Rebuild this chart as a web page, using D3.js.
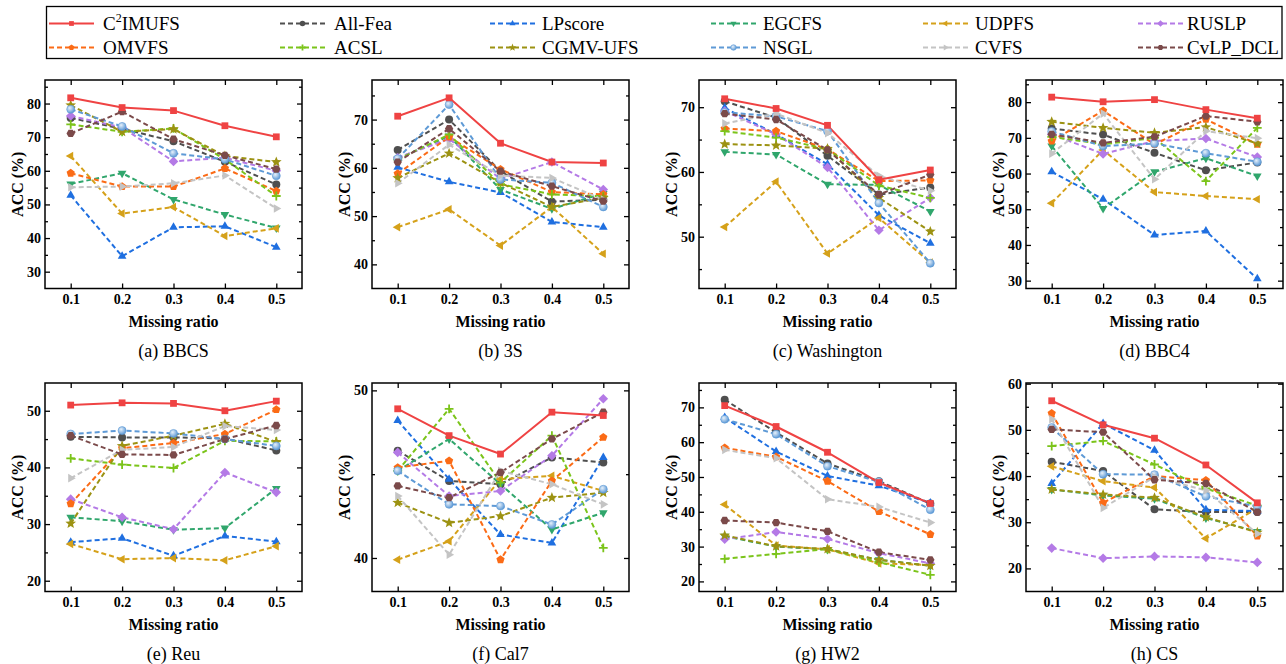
<!DOCTYPE html>
<html><head><meta charset="utf-8">
<script src="https://cdn.jsdelivr.net/npm/d3@7"></script>
<style>body{margin:0;background:#fff}svg{display:block}text{font-family:"Liberation Serif","Times New Roman",serif}</style>
</head><body><svg id="c" width="1286" height="664"></svg>
<script>
const missingRatios = [0.1, 0.2, 0.3, 0.4, 0.5];
const methods = ["C2IMUFS","All-Fea","LPscore","EGCFS","UDPFS","RUSLP","OMVFS","ACSL","CGMV-UFS","NSGL","CVFS","CvLP_DCL"];
const methodColors = ["#ef4343","#4f4f4f","#1f6fe0","#30a66c","#d5a11a","#b47ae6","#fb6b16","#7bc41a","#9c9212","#5e9ad6","#c4c4c4","#7b4a4a"];
const methodShapes = ["square","circle","triUp","triDown","triLeft","diamond","pentagon","plus","star","sphere","triRight","hexagon"];
const datasetNames = ["BBCS","3S","Washington","BBC4","Reu","Cal7","HW2","CS"];
const panelLetters = ["a","b","c","d","e","f","g","h"];

const accBBCS = [
  [81.7,78.8,77.9,73.4,70.1],[75.7,72.5,68.8,62.7,55.9],[52.7,34.6,43.2,43.5,37.3],[56.1,59.3,51.5,47.0,43.0],
  [64.4,47.3,49.2,40.6,42.9],[76.3,72.9,62.8,63.9,60.0],[59.3,55.3,55.3,60.7,54.0],[73.8,71.6,72.6,63.4,52.5],
  [79.5,71.6,72.4,64.4,62.6],[78.3,73.2,65.2,63.4,58.5],[55.1,55.3,56.3,58.6,48.8],[71.1,77.6,69.4,64.6,60.5]];
const acc3S = [
  [70.7,74.5,65.1,61.2,61.0],[63.7,70.0,59.3,53.0,53.4],[60.1,57.1,54.9,48.8,47.7],[61.9,66.6,55.5,51.5,54.7],
  [47.7,51.4,43.9,51.9,42.2],[62.1,66.0,57.7,61.2,55.5],[58.8,66.4,59.7,55.0,54.5],[61.7,66.9,56.6,54.5,54.1],
  [57.9,63.0,56.9,51.9,53.8],[61.9,73.1,57.6,56.9,51.9],[56.8,64.8,58.4,57.9,53.4],[61.2,68.1,59.3,56.2,53.1]];
const accWashington = [
  [71.3,69.8,67.2,58.8,60.3],[70.9,68.4,62.5,56.5,57.6],[69.9,65.8,61.2,53.3,49.0],[63.1,62.7,58.1,58.0,53.9],
  [51.5,58.5,47.4,52.9,46.0],[69.4,65.8,60.7,51.0,56.0],[66.7,66.3,63.5,58.6,58.7],[66.3,65.3,63.5,57.9,56.0],
  [64.3,64.1,63.6,56.0,50.8],[69.2,68.6,66.3,55.2,45.9],[67.5,69.0,66.0,59.4,57.1],[69.0,68.1,63.4,56.5,59.6]];
const accBBC4 = [
  [81.4,80.1,80.7,77.9,75.5],[72.6,70.9,65.8,60.9,63.1],[60.5,52.8,42.8,43.9,30.5],[67.7,50.2,60.5,64.3,59.3],
  [51.7,66.6,54.8,53.7,52.8],[71.0,65.5,69.1,69.8,64.6],[69.1,77.6,68.2,75.2,68.2],[70.3,68.2,70.0,57.9,72.8],
  [74.5,72.8,71.4,73.0,68.4],[71.8,67.7,68.4,65.7,63.3],[65.6,76.8,58.4,71.9,69.9],[71.0,68.6,70.3,76.1,74.5]];
const accReu = [
  [51.0,51.4,51.3,50.0,51.7],[45.4,45.3,45.3,45.1,43.0],[26.8,27.5,24.4,27.9,26.9],[31.2,30.5,29.0,29.3,36.3],
  [26.5,23.8,24.0,23.6,26.1],[34.4,31.2,29.1,39.1,35.6],[33.6,43.4,44.3,45.9,50.2],[41.6,40.5,39.9,44.7,44.6],
  [30.1,43.8,45.6,47.7,44.5],[45.9,46.5,46.0,45.0,43.8],[38.1,43.1,43.6,47.3,46.6],[45.6,42.3,42.2,45.0,47.4]];
const accCal7 = [
  [48.9,47.3,46.2,48.7,48.5],[46.4,44.6,44.4,46.0,45.7],[48.2,44.7,41.4,40.9,46.0],[45.2,47.1,44.4,41.7,42.7],
  [39.9,41.0,44.7,44.9,44.0],[46.3,43.7,44.0,46.1,49.5],[45.4,45.8,39.9,44.6,47.2],[45.2,48.9,44.5,47.3,40.6],
  [43.3,42.1,42.5,43.6,43.9],[45.2,43.2,43.1,42.0,44.1],[43.7,40.2,45.2,44.4,43.2],[44.3,43.6,45.1,47.1,48.7]];
const accHW2 = [
  [70.5,64.5,57.1,48.4,42.4],[72.2,62.8,53.9,48.8,42.4],[67.1,57.3,50.3,47.5,42.5],[33.0,30.0,29.2,26.2,24.5],
  [42.1,30.3,29.2,25.2,24.7],[32.1,34.2,32.2,28.1,25.2],[58.4,55.8,48.8,40.1,33.5],[26.5,27.9,29.3,25.5,21.9],
  [33.2,30.1,29.3,26.2,24.5],[66.6,62.3,53.1,48.6,40.6],[57.8,55.4,43.6,41.4,36.9],[37.5,36.9,34.4,28.4,26.2]];
const accCS = [
  [56.3,51.1,48.2,42.4,34.2],[43.1,41.1,32.8,32.2,32.2],[38.4,51.4,45.6,32.7,32.4],[37.1,35.8,35.1,30.9,28.0],
  [42.1,38.9,37.5,26.5,33.0],[24.4,22.2,22.6,22.4,21.3],[53.6,34.2,40.0,39.1,27.0],[46.5,47.6,42.5,37.3,33.6],
  [37.1,36.0,35.3,31.1,27.8],[50.5,40.4,40.3,35.6,33.4],[52.3,33.1,39.8,36.9,27.5],[50.1,49.5,39.2,38.4,32.2]];
const allAcc = [accBBCS, acc3S, accWashington, accBBC4, accReu, accCal7, accHW2, accCS];

const yDomains = [[25,87],[35,78.2],[42,74.2],[27.8,86.2],[18.1,54.9],[38,50.44],[17.1,77],[15,60.15]];
const yMajorTicks = [[30,40,50,60,70,80],[40,50,60,70],[50,60,70],[30,40,50,60,70,80],[20,30,40,50],[40,50],[20,30,40,50,60,70],[20,30,40,50,60]];
const yMinorTicks = [[35,45,55,65,75,85],[45,55,65,75],[45,55,65],[35,45,55,65,75,85],[25,35,45],[45],[25,35,45,55,65,75],[25,35,45,55]];

const SERIF = "Liberation Serif, Times New Roman, serif";
const svg = d3.select("#c");
const defs = svg.append("defs");
const grad = defs.append("radialGradient").attr("id","sphere").attr("cx","38%").attr("cy","35%").attr("r","65%");
grad.append("stop").attr("offset","0%").attr("stop-color","#e6f0fa");
grad.append("stop").attr("offset","100%").attr("stop-color","#5e9ad6");

function poly(n, R, startDeg) {
  const pts = [];
  for (let k = 0; k < n; k++) {
    const a = (startDeg + k * 360 / n) * Math.PI / 180;
    pts.push([R * Math.cos(a), R * Math.sin(a)]);
  }
  return "M" + pts.map(p => p[0].toFixed(2) + "," + p[1].toFixed(2)).join("L") + "Z";
}
function starPath(Ro, Ri) {
  const pts = [];
  for (let k = 0; k < 10; k++) {
    const a = (-90 + k * 36) * Math.PI / 180, R = k % 2 ? Ri : Ro;
    pts.push([R * Math.cos(a), R * Math.sin(a)]);
  }
  return "M" + pts.map(p => p[0].toFixed(2) + "," + p[1].toFixed(2)).join("L") + "Z";
}
function shapePath(type, r) {
  switch (type) {
    case "square": { const s = r * 0.85; return `M${-s},${-s}H${s}V${s}H${-s}Z`; }
    case "circle": case "sphere": return `M${r},0A${r},${r} 0 1,1 ${-r},0A${r},${r} 0 1,1 ${r},0Z`;
    case "triUp": return poly(3, r * 1.25, -90);
    case "triDown": return poly(3, r * 1.25, 90);
    case "triLeft": return poly(3, r * 1.25, 180);
    case "triRight": return poly(3, r * 1.25, 0);
    case "diamond": return poly(4, r * 1.2, -90);
    case "pentagon": return poly(5, r * 1.08, -90);
    case "hexagon": return poly(6, r * 1.05, 0);
    case "star": return starPath(r * 1.4, r * 0.6);
    case "plus": return `M${-r * 1.1},0H${r * 1.1}M0,${-r * 1.1}V${r * 1.1}`;
  }
}
function drawMarker(g, type, color, r) {
  const p = g.append("path").attr("d", shapePath(type, r));
  if (type === "plus") p.attr("fill", "none").attr("stroke", color).attr("stroke-width", 1.8);
  else if (type === "sphere") p.attr("fill", "url(#sphere)").attr("stroke", color).attr("stroke-width", 0.6);
  else p.attr("fill", color);
}

// Legend
const legendG = svg.append("g");
legendG.append("rect").attr("x", 46.5).attr("y", 6.5).attr("width", 1235.5).attr("height", 52)
  .attr("fill", "#fff").attr("stroke", "#000").attr("stroke-width", 1.3);
const legLineX = [49, 280, 490, 711, 923, 1138];
const legTextX = [103, 334, 542, 763, 975, 1187];
const legRowY = [23.5, 47.5];
methods.forEach((m, i) => {
  const x0 = legLineX[i % 6], y0 = legRowY[Math.floor(i / 6)];
  const g = legendG.append("g");
  g.append("line").attr("x1", x0).attr("x2", x0 + 45).attr("y1", y0).attr("y2", y0)
    .attr("stroke", methodColors[i]).attr("stroke-width", 2)
    .attr("stroke-dasharray", i === 0 ? null : "5,3");
  const mg = g.append("g").attr("transform", `translate(${x0 + 22.5},${y0})`);
  drawMarker(mg, methodShapes[i], methodColors[i], 2.8);
  const t = g.append("text").attr("x", legTextX[i % 6]).attr("y", y0 + 6.5).attr("font-size", 19)
    .attr("font-family", SERIF).attr("fill", "#000");
  if (i === 0) {
    t.append("tspan").text("C");
    t.append("tspan").text("2").attr("font-size", 12).attr("dy", -8);
    t.append("tspan").text("IMUFS").attr("dy", 8);
  } else t.text(m);
});

// Panels
const panelLeft = [45, 372, 699, 1026];
const rowTop = [80, 383];
const PW = 257, PH = 208.5;

allAcc.forEach((acc, p) => {
  const col = p % 4, row = Math.floor(p / 4);
  const x0 = panelLeft[col], y0 = rowTop[row];
  const g = svg.append("g").attr("transform", `translate(${x0},${y0})`);
  const x = d3.scaleLinear().domain([0.05, 0.55]).range([0, PW]);
  const y = d3.scaleLinear().domain(yDomains[p]).range([PH, 0]);

  const styleAxis = sel => {
    sel.attr("font-family", SERIF);
    sel.select(".domain").remove();
    sel.selectAll("line").attr("stroke", "#000").attr("stroke-width", 1.3);
  };
  g.append("g").attr("transform", `translate(0,${PH})`)
    .call(d3.axisBottom(x).tickValues(missingRatios).tickSize(-5).tickPadding(6).tickFormat(d3.format(".1f")))
    .call(styleAxis)
    .selectAll("text").attr("font-size", 14).attr("font-weight", "bold").attr("font-family", SERIF).attr("fill", "#000");
  g.append("g").call(d3.axisTop(x).tickValues(missingRatios).tickSize(-5).tickFormat("")).call(styleAxis);
  g.append("g")
    .call(d3.axisLeft(y).tickValues(yMajorTicks[p]).tickSize(-5).tickPadding(4).tickFormat(d3.format("d")))
    .call(styleAxis)
    .selectAll("text").attr("font-size", 14).attr("font-weight", "bold").attr("font-family", SERIF).attr("fill", "#000");
  g.append("g").call(d3.axisLeft(y).tickValues(yMinorTicks[p]).tickSize(-3).tickFormat("")).call(styleAxis);
  g.append("g").attr("transform", `translate(${PW},0)`)
    .call(d3.axisRight(y).tickValues(yMajorTicks[p]).tickSize(-5).tickFormat("")).call(styleAxis);
  g.append("g").attr("transform", `translate(${PW},0)`)
    .call(d3.axisRight(y).tickValues(yMinorTicks[p]).tickSize(-3).tickFormat("")).call(styleAxis);

  const order = d3.range(1, methods.length).concat([0]);
  const line = d3.line().x((d, k) => x(missingRatios[k])).y(d => y(d));
  order.forEach(i => {
    g.append("path").datum(acc[i]).attr("d", line).attr("fill", "none")
      .attr("stroke", methodColors[i]).attr("stroke-width", 2)
      .attr("stroke-dasharray", i === 0 ? null : "5,3").attr("stroke-linejoin", "round");
  });
  order.forEach(i => {
    acc[i].forEach((v, k) => {
      const mg = g.append("g").attr("transform", `translate(${x(missingRatios[k])},${y(v)})`);
      drawMarker(mg, methodShapes[i], methodColors[i], 4);
    });
  });

  g.append("rect").attr("x", 0).attr("y", 0).attr("width", PW).attr("height", PH)
    .attr("fill", "none").attr("stroke", "#000").attr("stroke-width", 1.5);

  g.append("text").attr("transform", `translate(-28,${PH / 2}) rotate(-90)`).attr("text-anchor", "middle")
    .attr("dy", "0.35em").attr("font-size", 16).attr("font-weight", "bold").attr("font-family", SERIF).text("ACC (%)");
  g.append("text").attr("x", PW / 2).attr("y", PH + 38).attr("text-anchor", "middle")
    .attr("font-size", 16).attr("font-weight", "bold").attr("font-family", SERIF).text("Missing ratio");
  g.append("text").attr("x", PW / 2).attr("y", PH + 68).attr("text-anchor", "middle")
    .attr("font-size", 18).attr("font-family", SERIF).text(`(${panelLetters[p]}) ${datasetNames[p]}`);
});
</script></body></html>
